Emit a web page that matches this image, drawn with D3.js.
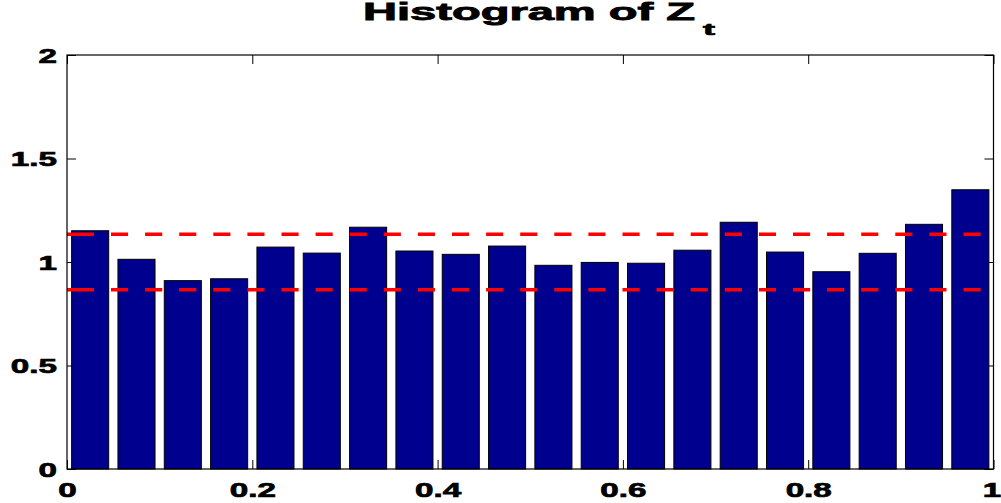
<!DOCTYPE html>
<html>
<head>
<meta charset="utf-8">
<script src="https://cdn.jsdelivr.net/npm/d3@7"></script>
<style>
html,body{margin:0;padding:0;background:#fff;}
svg{display:block;}
text{font-family:"Liberation Sans",Arial,Helvetica,sans-serif;font-weight:bold;fill:#000;}
</style>
</head>
<body>
<script>
// Data
const binCenters = [0.025,0.075,0.125,0.175,0.225,0.275,0.325,0.375,0.425,0.475,
                    0.525,0.575,0.625,0.675,0.725,0.775,0.825,0.875,0.925,0.975];
const binValues  = [1.151,1.013,0.910,0.919,1.072,1.043,1.168,1.053,1.037,1.077,
                    0.984,0.998,0.994,1.057,1.192,1.048,0.953,1.042,1.182,1.349];
const boundValues = [1.134, 0.866];
const xTicks = [0,0.2,0.4,0.6,0.8,1];
const xTickLabels = ["0","0.2","0.4","0.6","0.8","1"];
const yTicks = [0,0.5,1,1.5,2];
const yTickLabels = ["0","0.5","1","1.5","2"];
const binWidth = 0.05;
const titleMain = "Histogram of Z";
const titleSub = "t";

const W = 1001, H = 503;
const mLeft = 67, mRight = 993.5, mTop = 55, mBottom = 469;

const svg = d3.select("body").append("svg").attr("width", W).attr("height", H);

const x = d3.scaleLinear().domain([0,1]).range([mLeft,mRight]);
const y = d3.scaleLinear().domain([0,2]).range([mBottom,mTop]);

const tickLen = 9;
const sx = 1.62;

// axes (ticks inward)
const gxB = svg.append("g").attr("transform",`translate(0,${mBottom})`)
  .call(d3.axisBottom(x).tickValues(xTicks).tickSizeInner(-tickLen).tickSizeOuter(0)
        .tickFormat((d,i)=>xTickLabels[i]));
const gxT = svg.append("g").attr("transform",`translate(0,${mTop})`)
  .call(d3.axisTop(x).tickValues(xTicks).tickSizeInner(-tickLen).tickSizeOuter(0).tickFormat(""));
const gyL = svg.append("g").attr("transform",`translate(${mLeft},0)`)
  .call(d3.axisLeft(y).tickValues(yTicks).tickSizeInner(-tickLen).tickSizeOuter(0)
        .tickFormat((d,i)=>yTickLabels[i]));
const gyR = svg.append("g").attr("transform",`translate(${mRight},0)`)
  .call(d3.axisRight(y).tickValues(yTicks).tickSizeInner(-tickLen).tickSizeOuter(0).tickFormat(""));

[gxB,gxT,gyL,gyR].forEach(g=>{
  g.select(".domain").remove();
  g.selectAll(".tick line").attr("stroke","#000").attr("stroke-width",1);
});
gxB.selectAll(".tick text")
  .attr("y",0).attr("dy",null).attr("x",0)
  .attr("font-size",20.5).attr("font-family",null).attr("text-anchor","middle")
  .attr("stroke","#000").attr("stroke-width",0.7)
  .attr("transform",(d,i)=>`translate(${i===xTicks.length-1?-2:0},28) scale(${sx},1)`);
gyL.selectAll(".tick text")
  .attr("x",0).attr("dy",null).attr("y",0)
  .attr("font-size",20.5).attr("font-family",null).attr("text-anchor","end")
  .attr("stroke","#000").attr("stroke-width",0.7)
  .attr("transform",`translate(-10,7) scale(${sx},1)`);

// bars
const bw = x(binWidth*0.8) - x(0);
svg.append("g").selectAll("rect").data(binCenters).join("rect")
  .attr("x",(d)=>x(d)-bw/2)
  .attr("y",(d,i)=>y(binValues[i]))
  .attr("width",bw)
  .attr("height",(d,i)=>y(0)-y(binValues[i]))
  .attr("fill","#00008F")
  .attr("stroke","#000")
  .attr("stroke-width",1);

// dashed bound lines
const dashArr = [27,17];
for(let k=0;k<27;k++){dashArr.push(17.1,17.0);}
svg.append("g").selectAll("line").data(boundValues).join("line")
  .attr("x1",x(0)).attr("x2",x(1))
  .attr("y1",d=>y(d)).attr("y2",d=>y(d))
  .attr("stroke","#ff0000").attr("stroke-width",3.3)
  .attr("stroke-dasharray",dashArr.join(","));

// box
svg.append("rect").attr("x",mLeft).attr("y",mTop)
  .attr("width",mRight-mLeft).attr("height",mBottom-mTop)
  .attr("fill","none").attr("stroke","#000").attr("stroke-width",1.2);

// title
const tg = svg.append("g");
tg.append("text").attr("x",363).attr("y",20)
  .attr("font-size",23)
  .attr("stroke","#000").attr("stroke-width",0.8)
  .attr("textLength",332).attr("lengthAdjust","spacingAndGlyphs")
  .text(titleMain);
tg.append("text").attr("x",703).attr("y",35)
  .attr("font-size",17)
  .attr("stroke","#000").attr("stroke-width",0.7)
  .attr("textLength",12).attr("lengthAdjust","spacingAndGlyphs")
  .text(titleSub);
</script>
</body>
</html>
